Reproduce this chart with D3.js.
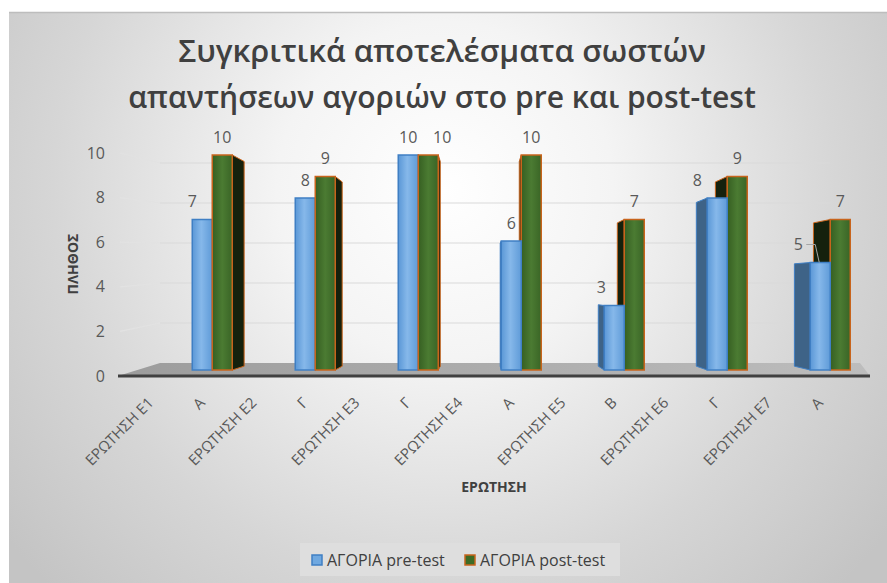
<!DOCTYPE html>
<html>
<head>
<meta charset="utf-8">
<script src="https://cdn.jsdelivr.net/npm/d3@7"></script>
<style>
  html, body { margin: 0; padding: 0; background: #ffffff; }
  svg { display: block; }
  text { font-family: "Open Sans", "Noto Sans", sans-serif; }
</style>
</head>
<body>
<svg id="chart" width="887" height="583"></svg>
<script>
// ---------- data ----------
const titleLines = ["Συγκριτικά αποτελέσματα σωστών", "απαντήσεων αγοριών στο pre και post-test"];
const categories = ["ΕΡΩΤΗΣΗ Ε1", "Α", "ΕΡΩΤΗΣΗ Ε2", "Γ", "ΕΡΩΤΗΣΗ Ε3", "Γ", "ΕΡΩΤΗΣΗ Ε4",
                    "Α", "ΕΡΩΤΗΣΗ Ε5", "Β", "ΕΡΩΤΗΣΗ Ε6", "Γ", "ΕΡΩΤΗΣΗ Ε7", "Α"];
const preValues  = [null, 7, null, 8, null, 10, null, 6, null, 3, null, 8, null, 5];
const postValues = [null, 10, null, 9, null, 10, null, 10, null, 7, null, 9, null, 7];
const seriesNames = ["ΑΓΟΡΙΑ pre-test", "ΑΓΟΡΙΑ post-test"];
const yTicks = [0, 2, 4, 6, 8, 10];
const yTitle = "ΠΛΗΘΟΣ";
const xTitle = "ΕΡΩΤΗΣΗ";

// ---------- layout constants (not data) ----------
const preLabelNudge  = [0, -10, 0, 0, 0, 0, 0, 0, 0, -13, 0, -20, 0, -22];
const postLabelNudge = [0, 0, 0, 0, 0, 14, 0, 0, 0, 0, 0, 0, 0, 0];
const leaderAt = [13];

const svg = d3.select("#chart");
const W = 887, H = 583;
const defs = svg.append("defs");

// background gradient
const bg = defs.append("radialGradient").attr("id", "bgGrad")
  .attr("gradientUnits", "userSpaceOnUse")
  .attr("cx", 445).attr("cy", 190).attr("r", 560);
bg.append("stop").attr("offset", 0).attr("stop-color", "#ffffff");
bg.append("stop").attr("offset", 0.3).attr("stop-color", "#f4f4f4");
bg.append("stop").attr("offset", 0.7).attr("stop-color", "#d6d6d6");
bg.append("stop").attr("offset", 1).attr("stop-color", "#c4c4c4");

function hGrad(id, stops) {
  const g = defs.append("linearGradient").attr("id", id)
    .attr("x1", 0).attr("x2", 1).attr("y1", 0).attr("y2", 0);
  stops.forEach(([o, c]) => g.append("stop").attr("offset", o).attr("stop-color", c));
}
hGrad("preFront", [[0, "#5a97d6"], [0.45, "#86b8ea"], [1, "#5f9bd8"]]);
hGrad("postFront", [[0, "#365f22"], [0.5, "#4b7b32"], [1, "#3a6526"]]);
hGrad("floorGrad", [[0, "#9c9c9c"], [1, "#bdbdbd"]]);

svg.append("rect").attr("x", 9).attr("y", 12).attr("width", W - 9).attr("height", H - 12)
  .attr("fill", "url(#bgGrad)");
svg.append("line").attr("x1", 9).attr("x2", W).attr("y1", 12.5).attr("y2", 12.5)
  .attr("stroke", "#bdbdbd").attr("stroke-width", 1.5);

// ---------- title ----------
const titleTargets = [528, 628];
const titleY = [62, 108];
titleLines.forEach((t, i) => {
  const tx = svg.append("text").attr("x", 442).attr("y", titleY[i])
    .attr("text-anchor", "middle").attr("fill", "#404040").attr("font-weight", 600)
    .attr("font-size", 30).text(t);
  const len = tx.node().getComputedTextLength();
  tx.attr("font-size", 30 * titleTargets[i] / len);
});

// ---------- scales ----------
const x = d3.scaleBand().domain(d3.range(categories.length)).range([135, 856]).padding(0);
const yBar = d3.scaleLinear().domain([0, 10]).range([370, 155]);
const yTickPos = d3.scaleLinear().domain([0, 10]).range([376, 153]);
const yBack = d3.scaleLinear().domain([0, 10]).range([363, 163]);
const barW = 20;

// ---------- gridlines ----------
const grid = svg.append("g");
yTicks.filter(v => v > 0).forEach(v => {
  grid.append("path")
    .attr("d", `M120,${yTickPos(v)} L160,${yBack(v)}`)
    .attr("stroke", "#e2e2e2").attr("stroke-width", 1.2).attr("fill", "none");
  grid.append("path")
    .attr("d", `M160,${yBack(v)} L830,${yBack(v)}`)
    .attr("stroke", "#d9d9d9").attr("stroke-width", 1.2).attr("fill", "none");
});

// floor
svg.append("path")
  .attr("d", `M118,376 L870,376 L860,${yBack(0)} L160,${yBack(0)} Z`)
  .attr("fill", "url(#floorGrad)");
svg.append("line").attr("x1", 118).attr("x2", 870).attr("y1", 376).attr("y2", 376)
  .attr("stroke", "#404040").attr("stroke-width", 3);

// y tick labels
svg.append("g").selectAll("text").data(yTicks).join("text")
  .attr("x", 105).attr("y", d => yTickPos(d)).attr("dy", "0.35em")
  .attr("text-anchor", "end").attr("font-size", 16).attr("fill", "#595959")
  .text(d => d);

// ---------- 3D bars ----------
const vx = 480, vy = 290, k = 0.048;
const back = (p, v) => v + (p - v) * (1 - k);
const barsG = svg.append("g");

function drawBar(left, value, series) {
  const right = left + barW;
  const top = yBar(value), bottom = yBar(0);
  const front = series === 0 ? "url(#preFront)" : "url(#postFront)";
  const stroke = series === 0 ? "#3f7fc4" : "#c8641c";
  const sideFill = series === 0 ? (left > vx ? "#3e6387" : "#3a6fa6") : "#15210d";
  const g = barsG.append("g");
  let ex;
  if (right < vx) ex = right; else if (left > vx) ex = left; else ex = null;
  if (ex !== null) {
    const bx = back(ex, vx);
    g.append("path")
      .attr("d", `M${ex},${top} L${bx},${back(top, vy)} L${bx},${back(bottom, vy)} L${ex},${bottom} Z`)
      .attr("fill", sideFill).attr("stroke", stroke).attr("stroke-width", 1);
  }
  g.append("rect").attr("x", left).attr("y", top).attr("width", barW).attr("height", bottom - top)
    .attr("fill", front).attr("stroke", stroke).attr("stroke-width", 1.5);
}

const labelsG = svg.append("g");
categories.forEach((c, i) => {
  const pv = preValues[i], qv = postValues[i];
  if (pv == null && qv == null) return;
  const cx = x(i) + x.bandwidth() / 2;
  const preLeft = cx - barW, postLeft = cx;
  if (cx <= vx + 40) {
    if (pv != null) drawBar(preLeft, pv, 0);
    if (qv != null) drawBar(postLeft, qv, 1);
  } else {
    if (qv != null) drawBar(postLeft, qv, 1);
    if (pv != null) drawBar(preLeft, pv, 0);
  }
  if (pv != null) {
    const lx = preLeft + barW / 2 + preLabelNudge[i];
    labelsG.append("text").attr("x", lx).attr("y", yBar(pv) - 18).attr("dy", "0.35em")
      .attr("text-anchor", "middle").attr("font-size", 16).attr("fill", "#595959").text(pv);
    if (leaderAt.includes(i)) {
      labelsG.append("path")
        .attr("d", `M${lx + 8},${yBar(pv) - 18} L${lx + 17},${yBar(pv) - 18} L${lx + 21},${yBar(pv)}`)
        .attr("stroke", "#a6a6a6").attr("fill", "none").attr("stroke-width", 1);
    }
  }
  if (qv != null) {
    labelsG.append("text").attr("x", postLeft + barW / 2 + postLabelNudge[i]).attr("y", yBar(qv) - 18)
      .attr("dy", "0.35em").attr("text-anchor", "middle").attr("font-size", 16)
      .attr("fill", "#595959").text(qv);
  }
});

// ---------- x tick labels ----------
svg.append("g").selectAll("text").data(categories).join("text")
  .attr("transform", (d, i) => `translate(${x(i) + x.bandwidth() / 2 - 10},400) rotate(-45)`)
  .attr("text-anchor", "end").attr("dy", "0.35em")
  .attr("font-size", 15).attr("fill", "#595959").text(d => d);

// axis titles
svg.append("text").attr("x", 494).attr("y", 487).attr("dy", "0.35em")
  .attr("text-anchor", "middle").attr("font-size", 14).attr("font-weight", "bold")
  .attr("fill", "#404040").text(xTitle);
svg.append("text").attr("transform", "translate(73,264) rotate(-90)").attr("dy", "0.35em")
  .attr("text-anchor", "middle").attr("font-size", 14).attr("font-weight", "bold")
  .attr("fill", "#404040").text(yTitle);

// ---------- legend ----------
const leg = svg.append("g");
leg.append("rect").attr("x", 300).attr("y", 543).attr("width", 320).attr("height", 33)
  .attr("fill", "#dedede");
const legX = [312, 465];
seriesNames.forEach((s, i) => {
  leg.append("rect").attr("x", legX[i]).attr("y", 555).attr("width", 10).attr("height", 10)
    .attr("fill", i === 0 ? "#6fa8e0" : "#3d6b25")
    .attr("stroke", i === 0 ? "#3f7fc4" : "#c8641c").attr("stroke-width", 1.5);
  leg.append("text").attr("x", legX[i] + 15).attr("y", 560).attr("dy", "0.35em")
    .attr("font-size", 16).attr("fill", "#404040").text(s);
});
</script>
</body>
</html>
